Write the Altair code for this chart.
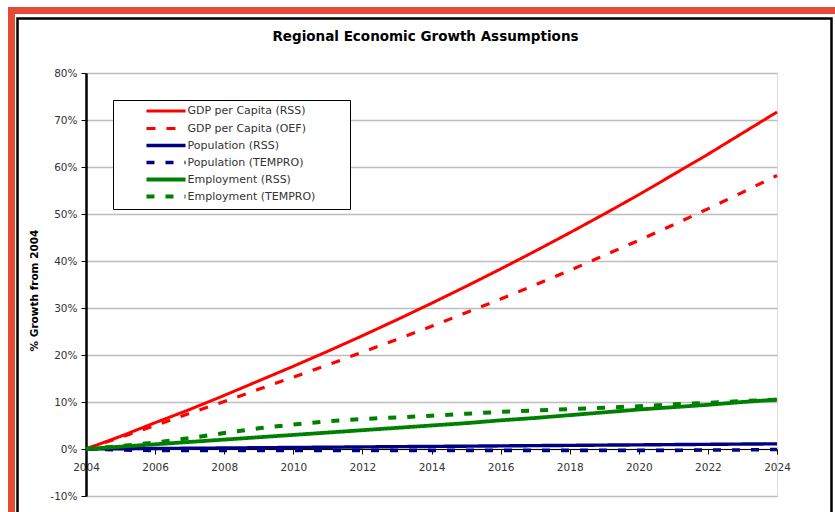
import altair as alt
import pandas as pd

# ---- data (% growth from 2004) ----
years = list(range(2004, 2025))
gdp_rss = [0, 2.7, 5.6, 8.4, 11.4, 14.5, 17.6, 20.8, 24.1, 27.5, 31.0,
           34.6, 38.3, 42.1, 46.0, 50.0, 54.1, 58.4, 62.7, 67.2, 71.7]
gdp_oef = [0, 2.5, 5.0, 7.6, 10.1, 12.7, 15.3, 17.9, 20.6, 23.3, 26.1,
           29.0, 31.9, 34.9, 38.0, 41.2, 44.4, 47.7, 51.1, 54.6, 58.2]
pop_rss = [0, 0.05, 0.1, 0.16, 0.21, 0.27, 0.33, 0.38, 0.44, 0.5, 0.55,
           0.6, 0.66, 0.72, 0.77, 0.83, 0.88, 0.94, 0.99, 1.05, 1.1]
pop_tempro = [0, -0.2, -0.3, -0.3, -0.3, -0.3, -0.3, -0.3, -0.3, -0.3, -0.3,
              -0.3, -0.3, -0.3, -0.3, -0.3, -0.3, -0.3, -0.2, -0.2, -0.1]
emp_rss = [0, 0.5, 1.0, 1.5, 2.0, 2.5, 3.0, 3.5, 4.0, 4.5, 5.0,
           5.5, 6.1, 6.6, 7.2, 7.8, 8.4, 8.9, 9.4, 10.0, 10.5]
emp_tempro = [0, 0.6, 1.4, 2.3, 3.4, 4.4, 5.2, 5.9, 6.4, 6.7, 7.1,
              7.5, 7.9, 8.2, 8.5, 8.8, 9.1, 9.5, 9.8, 10.2, 10.5]

series_names = ["GDP per Capita (RSS)", "GDP per Capita (OEF)",
                "Population (RSS)", "Population (TEMPRO)",
                "Employment (RSS)", "Employment (TEMPRO)"]
series_values = [gdp_rss, gdp_oef, pop_rss, pop_tempro, emp_rss, emp_tempro]
series_colors = ["#ff0000", "#ff0000", "#000080", "#000080", "#008000", "#008000"]
series_dashes = [[1, 0], [9, 11], [1, 0], [8, 11], [1, 0], [8, 11]]
series_widths = [3, 4, 3, 4, 3, 4]

x_ticks = list(range(2004, 2025, 2))
y_ticks = list(range(-10, 90, 10))

title_text = "Regional Economic Growth Assumptions"
y_title = "% Growth from 2004"

rows = []
for name, vals in zip(series_names, series_values):
    for yr, v in zip(years, vals):
        rows.append({"year": yr, "value": v, "series": name})
df = pd.DataFrame(rows)

FONT = "DejaVu Sans"
W, H = 691, 423
PAD_L, PAD_T = 86, 73

# legend symbol: a horizontal stroke; the trailing move-to only widens the legend box
legend = alt.Legend(
    title=None, orient="none", legendX=27, legendY=27, direction="vertical",
    strokeColor="black", fillColor="white", padding=4, gridAlign="all",
    symbolType="M-3.55,0H3.55M31.1,0", symbolSize=121, symbolStrokeWidth=3,
    symbolOffset=41.5, labelOffset=14, rowPadding=0,
    labelFont=FONT, labelFontSize=11, labelColor="#333", labelLimit=400,
)

lines = alt.Chart(df).mark_line(strokeCap="butt", clip=False).encode(
    x=alt.X("year:Q",
            scale=alt.Scale(domain=[2004, 2024], nice=False, zero=False),
            axis=alt.Axis(values=x_ticks, format="d", offset=-H / 9, title=None,
                          labelFont=FONT, labelFontSize=10.5, labelColor="#333",
                          labelPadding=8, labelFlush=False, tickSize=5,
                          tickColor="black", domainColor="black", domainWidth=1,
                          grid=False)),
    y=alt.Y("value:Q",
            scale=alt.Scale(domain=[-10, 80], nice=False, zero=False),
            axis=alt.Axis(values=y_ticks, labelExpr="datum.value + '%'",
                          title=y_title, titleFont=FONT, titleFontSize=10.5,
                          titleFontWeight="bold", titleColor="black",
                          titlePadding=10, titleY=217,
                          labelFont=FONT, labelFontSize=10.5, labelColor="#333",
                          labelPadding=4, tickSize=5, tickColor="black",
                          domainColor="black", domainWidth=2.5,
                          grid=True, gridColor="#bdbdbd", gridWidth=1.5)),
    color=alt.Color("series:N", sort=series_names,
                    scale=alt.Scale(domain=series_names, range=series_colors),
                    legend=legend),
    strokeDash=alt.StrokeDash("series:N", sort=series_names,
                              scale=alt.Scale(domain=series_names, range=series_dashes),
                              legend=legend),
    strokeWidth=alt.StrokeWidth("series:N",
                                scale=alt.Scale(domain=series_names, range=series_widths),
                                legend=None),
    order=alt.Order("year:Q"),
)

frame_df = pd.DataFrame({"k": [0]})
red_frame = alt.Chart(frame_df).mark_rect(
    fillOpacity=0, stroke="#e64a33", strokeWidth=7
).encode(
    x=alt.value(11.5 - PAD_L), x2=alt.value(870 - PAD_L),
    y=alt.value(10.5 - PAD_T), y2=alt.value(560 - PAD_T),
)
black_frame = alt.Chart(frame_df).mark_rect(
    fillOpacity=0, stroke="black", strokeWidth=2.5
).encode(
    x=alt.value(17.5 - PAD_L), x2=alt.value(831.5 - PAD_L),
    y=alt.value(18.5 - PAD_T), y2=alt.value(560 - PAD_T),
)

chart = alt.layer(red_frame, black_frame, lines).properties(
    width=W, height=H,
    padding={"left": PAD_L, "top": PAD_T, "right": 835 - PAD_L - W, "bottom": 512 - PAD_T - H},
    autosize=alt.AutoSizeParams(type="none"),
    background="white",
    title=alt.TitleParams(title_text, font=FONT, fontSize=13.5, fontWeight="bold",
                          color="black", anchor="middle", frame="group",
                          offset=-36, dx=-6),
).configure_view(
    stroke="#999999", strokeWidth=2
).configure(font=FONT)

chart.save("out.html", embed_options={"renderer": "svg", "actions": False})
